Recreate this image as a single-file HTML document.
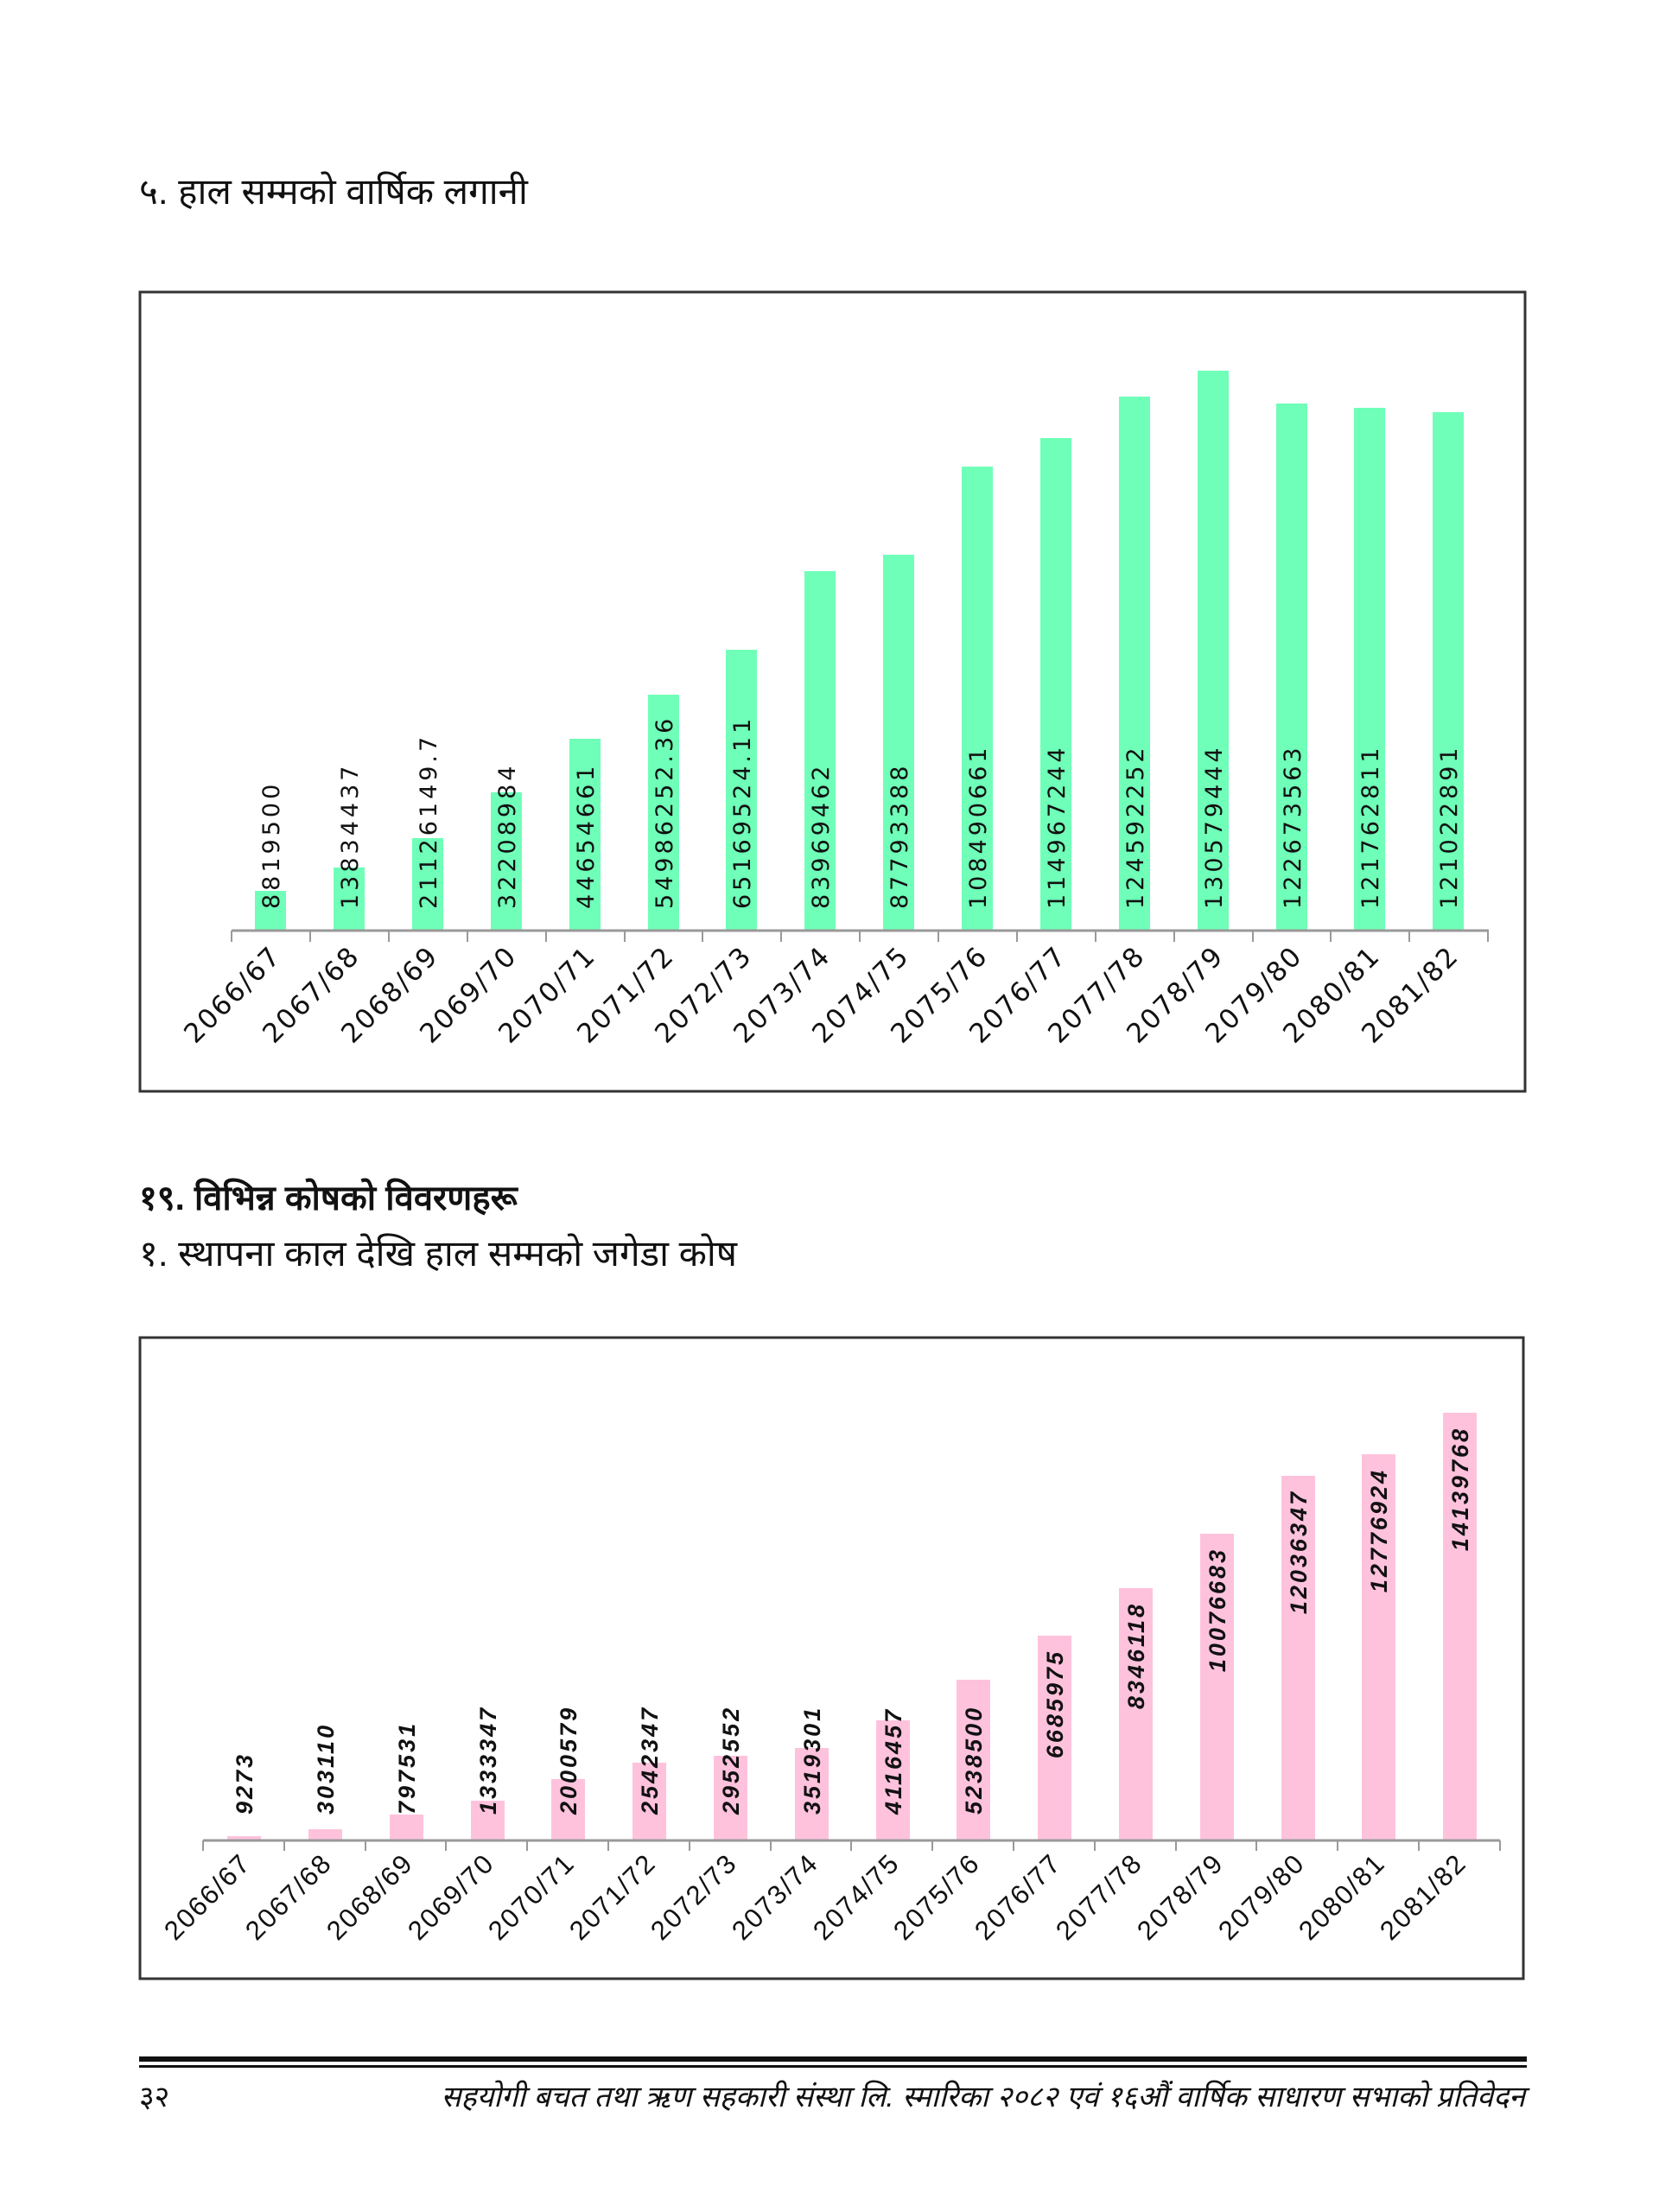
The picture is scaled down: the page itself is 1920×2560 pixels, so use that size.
<!DOCTYPE html>
<html><head><meta charset="utf-8"><style>
html,body{margin:0;padding:0;background:#fff;}
svg{display:block;}
</style></head><body>
<svg width="1920" height="2560" viewBox="0 0 1920 2560" xmlns="http://www.w3.org/2000/svg" font-family="Liberation Sans, sans-serif">
<rect width="1920" height="2560" fill="#fff"/>
<text x="161" y="236" font-size="42" fill="#111">५. हाल सम्मको वार्षिक लगानी</text>

<!-- Chart 1 -->
<rect x="162" y="338" width="1603" height="925" fill="#fff" stroke="#333" stroke-width="3"/>
<g fill="#6fffb8">
<rect x="295" y="1031" width="36" height="46"/>
<rect x="386" y="1004" width="36" height="73"/>
<rect x="477" y="970" width="36" height="107"/>
<rect x="568" y="917" width="36" height="160"/>
<rect x="659" y="855" width="36" height="222"/>
<rect x="750" y="804" width="36" height="273"/>
<rect x="840" y="752" width="36" height="325"/>
<rect x="931" y="661" width="36" height="416"/>
<rect x="1022" y="642" width="36" height="435"/>
<rect x="1113" y="540" width="36" height="537"/>
<rect x="1204" y="507" width="36" height="570"/>
<rect x="1295" y="459" width="36" height="618"/>
<rect x="1386" y="429" width="36" height="648"/>
<rect x="1477" y="467" width="36" height="610"/>
<rect x="1567" y="472" width="36" height="605"/>
<rect x="1658" y="477" width="36" height="600"/>
</g>
<line x1="268" y1="1077" x2="1723" y2="1077" stroke="#999" stroke-width="3"/>
<g stroke="#999" stroke-width="2">
<line x1="268" y1="1077" x2="268" y2="1090"/><line x1="359" y1="1077" x2="359" y2="1090"/><line x1="450" y1="1077" x2="450" y2="1090"/><line x1="541" y1="1077" x2="541" y2="1090"/><line x1="632" y1="1077" x2="632" y2="1090"/><line x1="723" y1="1077" x2="723" y2="1090"/><line x1="813" y1="1077" x2="813" y2="1090"/><line x1="904" y1="1077" x2="904" y2="1090"/><line x1="995" y1="1077" x2="995" y2="1090"/><line x1="1086" y1="1077" x2="1086" y2="1090"/><line x1="1177" y1="1077" x2="1177" y2="1090"/><line x1="1268" y1="1077" x2="1268" y2="1090"/><line x1="1359" y1="1077" x2="1359" y2="1090"/><line x1="1450" y1="1077" x2="1450" y2="1090"/><line x1="1540" y1="1077" x2="1540" y2="1090"/><line x1="1631" y1="1077" x2="1631" y2="1090"/><line x1="1722" y1="1077" x2="1722" y2="1090"/>
</g>
<g font-family="DejaVu Sans, sans-serif" font-size="27" letter-spacing="4" fill="#111">
<text transform="translate(323,1052) rotate(-90)">8819500</text>
<text transform="translate(414,1052) rotate(-90)">13834437</text>
<text transform="translate(505,1052) rotate(-90)">21126149.7</text>
<text transform="translate(596,1052) rotate(-90)">32208984</text>
<text transform="translate(687,1052) rotate(-90)">44654661</text>
<text transform="translate(778,1052) rotate(-90)">54986252.36</text>
<text transform="translate(868,1052) rotate(-90)">65169524.11</text>
<text transform="translate(959,1052) rotate(-90)">83969462</text>
<text transform="translate(1050,1052) rotate(-90)">87793388</text>
<text transform="translate(1141,1052) rotate(-90)">108490661</text>
<text transform="translate(1232,1052) rotate(-90)">114967244</text>
<text transform="translate(1323,1052) rotate(-90)">124592252</text>
<text transform="translate(1414,1052) rotate(-90)">130579444</text>
<text transform="translate(1505,1052) rotate(-90)">122673563</text>
<text transform="translate(1595,1052) rotate(-90)">121762811</text>
<text transform="translate(1686,1052) rotate(-90)">121022891</text>
</g>
<g font-family="DejaVu Sans, sans-serif" font-size="31" letter-spacing="2" fill="#111" text-anchor="end">
<text transform="translate(327,1108) rotate(-45)">2066/67</text>
<text transform="translate(418,1108) rotate(-45)">2067/68</text>
<text transform="translate(509,1108) rotate(-45)">2068/69</text>
<text transform="translate(600,1108) rotate(-45)">2069/70</text>
<text transform="translate(691,1108) rotate(-45)">2070/71</text>
<text transform="translate(782,1108) rotate(-45)">2071/72</text>
<text transform="translate(872,1108) rotate(-45)">2072/73</text>
<text transform="translate(963,1108) rotate(-45)">2073/74</text>
<text transform="translate(1054,1108) rotate(-45)">2074/75</text>
<text transform="translate(1145,1108) rotate(-45)">2075/76</text>
<text transform="translate(1236,1108) rotate(-45)">2076/77</text>
<text transform="translate(1327,1108) rotate(-45)">2077/78</text>
<text transform="translate(1418,1108) rotate(-45)">2078/79</text>
<text transform="translate(1509,1108) rotate(-45)">2079/80</text>
<text transform="translate(1599,1108) rotate(-45)">2080/81</text>
<text transform="translate(1690,1108) rotate(-45)">2081/82</text>
</g>

<text x="161" y="1400" font-size="40" font-weight="bold" fill="#111">१९. विभिन्न कोषको विवरणहरू</text>
<text x="161" y="1465" font-size="42" fill="#111">१. स्थापना काल देखि हाल सम्मको जगेडा कोष</text>

<!-- Chart 2 -->
<rect x="162" y="1548" width="1601" height="742" fill="#fff" stroke="#333" stroke-width="3"/>
<g fill="#ffc2dd">
<rect x="263" y="2125" width="39" height="5"/>
<rect x="357" y="2117" width="39" height="13"/>
<rect x="451" y="2100" width="39" height="30"/>
<rect x="545" y="2084" width="39" height="46"/>
<rect x="638" y="2059" width="39" height="71"/>
<rect x="732" y="2040" width="39" height="90"/>
<rect x="826" y="2032" width="39" height="98"/>
<rect x="920" y="2023" width="39" height="107"/>
<rect x="1014" y="1991" width="39" height="139"/>
<rect x="1107" y="1944" width="39" height="186"/>
<rect x="1201" y="1893" width="39" height="237"/>
<rect x="1295" y="1838" width="39" height="292"/>
<rect x="1389" y="1775" width="39" height="355"/>
<rect x="1483" y="1708" width="39" height="422"/>
<rect x="1576" y="1683" width="39" height="447"/>
<rect x="1670" y="1635" width="39" height="495"/>
</g>
<line x1="235" y1="2130" x2="1736" y2="2130" stroke="#999" stroke-width="3"/>
<g stroke="#999" stroke-width="2">
<line x1="235" y1="2130" x2="235" y2="2142"/><line x1="329" y1="2130" x2="329" y2="2142"/><line x1="423" y1="2130" x2="423" y2="2142"/><line x1="516" y1="2130" x2="516" y2="2142"/><line x1="610" y1="2130" x2="610" y2="2142"/><line x1="704" y1="2130" x2="704" y2="2142"/><line x1="798" y1="2130" x2="798" y2="2142"/><line x1="892" y1="2130" x2="892" y2="2142"/><line x1="985" y1="2130" x2="985" y2="2142"/><line x1="1079" y1="2130" x2="1079" y2="2142"/><line x1="1173" y1="2130" x2="1173" y2="2142"/><line x1="1267" y1="2130" x2="1267" y2="2142"/><line x1="1361" y1="2130" x2="1361" y2="2142"/><line x1="1454" y1="2130" x2="1454" y2="2142"/><line x1="1548" y1="2130" x2="1548" y2="2142"/><line x1="1642" y1="2130" x2="1642" y2="2142"/><line x1="1736" y1="2130" x2="1736" y2="2142"/>
</g>
<g font-size="27" font-weight="bold" font-style="italic" letter-spacing="3" fill="#111">
<text transform="translate(292,2100) rotate(-90)">9273</text>
<text transform="translate(386,2100) rotate(-90)">303110</text>
<text transform="translate(480,2100) rotate(-90)">797531</text>
<text transform="translate(574,2100) rotate(-90)">1333347</text>
<text transform="translate(667,2100) rotate(-90)">2000579</text>
<text transform="translate(761,2100) rotate(-90)">2542347</text>
<text transform="translate(855,2100) rotate(-90)">2952552</text>
<text transform="translate(949,2100) rotate(-90)">3519301</text>
<text transform="translate(1043,2100) rotate(-90)">4116457</text>
<text transform="translate(1136,2100) rotate(-90)">5238500</text>
</g>
<g font-size="27" font-weight="bold" font-style="italic" letter-spacing="3" fill="#111" text-anchor="end">
<text transform="translate(1230,1909) rotate(-90)">6685975</text>
<text transform="translate(1324,1854) rotate(-90)">8346118</text>
<text transform="translate(1418,1791) rotate(-90)">10076683</text>
<text transform="translate(1512,1724) rotate(-90)">12036347</text>
<text transform="translate(1605,1699) rotate(-90)">12776924</text>
<text transform="translate(1699,1651) rotate(-90)">14139768</text>
</g>
<g font-size="31" letter-spacing="2" fill="#111" text-anchor="end">
<text transform="translate(292,2158) rotate(-45)">2066/67</text>
<text transform="translate(386,2158) rotate(-45)">2067/68</text>
<text transform="translate(480,2158) rotate(-45)">2068/69</text>
<text transform="translate(574,2158) rotate(-45)">2069/70</text>
<text transform="translate(667,2158) rotate(-45)">2070/71</text>
<text transform="translate(761,2158) rotate(-45)">2071/72</text>
<text transform="translate(855,2158) rotate(-45)">2072/73</text>
<text transform="translate(949,2158) rotate(-45)">2073/74</text>
<text transform="translate(1043,2158) rotate(-45)">2074/75</text>
<text transform="translate(1136,2158) rotate(-45)">2075/76</text>
<text transform="translate(1230,2158) rotate(-45)">2076/77</text>
<text transform="translate(1324,2158) rotate(-45)">2077/78</text>
<text transform="translate(1418,2158) rotate(-45)">2078/79</text>
<text transform="translate(1512,2158) rotate(-45)">2079/80</text>
<text transform="translate(1605,2158) rotate(-45)">2080/81</text>
<text transform="translate(1699,2158) rotate(-45)">2081/82</text>
</g>

<!-- Footer -->
<rect x="161" y="2380" width="1606" height="6" fill="#111"/>
<rect x="161" y="2390" width="1606" height="3" fill="#111"/>
<text x="161" y="2438" font-size="34" fill="#111">३२</text>
<text x="1765" y="2438" font-size="34" font-style="italic" fill="#111" text-anchor="end">सहयोगी बचत तथा ऋण सहकारी संस्था लि. स्मारिका २०८२ एवं १६औं वार्षिक साधारण सभाको प्रतिवेदन</text>
</svg>
</body></html>
